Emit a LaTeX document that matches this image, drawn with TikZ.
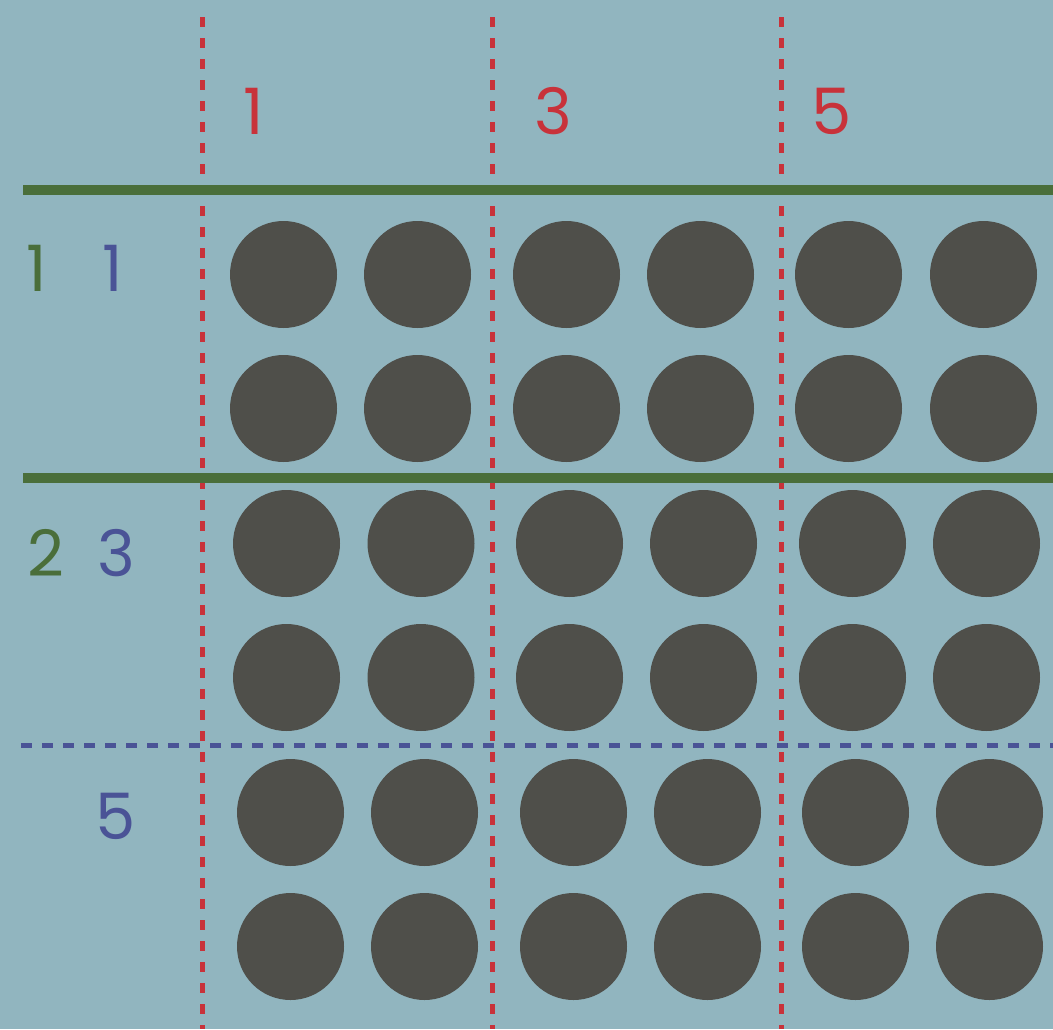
\documentclass[tikz,border=0pt]{standalone}
\usepackage{fontspec}
\setmainfont{Poppins}
\definecolor{bgc}{HTML}{91B5BF}
\definecolor{dotc}{HTML}{4F4F4A}
\definecolor{grn}{HTML}{4A6E3A}
\definecolor{redc}{HTML}{C8323A}
\definecolor{blu}{HTML}{4A5396}
\begin{document}
\begin{tikzpicture}[x=1pt,y=-1pt,
  dot/.style={circle,fill=dotc,draw=none,minimum size=107pt,inner sep=0pt},
  redline/.style={draw=redc,line width=5pt,dash pattern=on 10pt off 11pt},
  bluline/.style={draw=blu,line width=5pt,dash pattern=on 11pt off 10pt},
  grnline/.style={draw=grn,line width=10pt},
  lab/.style={font=\fontsize{64}{64}\selectfont,inner sep=0pt,anchor=center}]
\fill[bgc] (0,0) rectangle (1053,1029);
\useasboundingbox (0,0) rectangle (1053,1029);
% coordinates
\coordinate (r1t) at (202,17); \coordinate (r1b) at (202,1029);
\coordinate (r2t) at (492,17); \coordinate (r2b) at (492,1029);
\coordinate (r3t) at (781,17); \coordinate (r3b) at (781,1029);
\coordinate (g1l) at (23,190); \coordinate (g1r) at (1053,190);
\coordinate (g2l) at (23,478); \coordinate (g2r) at (1053,478);
\coordinate (b1l) at (21,745); \coordinate (b1r) at (1053,745);
% lines
\draw[bluline] (b1l) -- (b1r);
\draw[redline] (r1t) -- (r1b);
\draw[redline] (r2t) -- (r2b);
\draw[redline] (r3t) -- (r3b);
\draw[grnline] (g1l) -- (g1r);
\draw[grnline] (g2l) -- (g2r);
% labels
\node[lab,text=redc] (c1) at (254,111) {1};
\node[lab,text=redc] (c3) at (553,111) {3};
\node[lab,text=redc] (c5) at (832,111) {5};
\node[lab,text=grn] (g1) at (37,268) {1};
\node[lab,text=blu] (b1) at (113,268) {1};
\node[lab,text=grn] (g2) at (46,553) {2};
\node[lab,text=blu] (b3) at (116,553) {3};
\node[lab,text=blu] (b5) at (116,816) {5};
% dots rows 1-2
\foreach \x [count=\i] in {283.5,417.5,566.5,700.5,848.5,983.5}{
  \node[dot] (d1\i) at (\x,274.5) {};
  \node[dot] (d2\i) at (\x,408.5) {};
}
% rows 3-4
\foreach \x [count=\i] in {286.5,421,569.5,703.5,852.5,986.5}{
  \node[dot] (d3\i) at (\x,543.5) {};
  \node[dot] (d4\i) at (\x,677.5) {};
}
% rows 5-6
\foreach \x [count=\i] in {290.5,424.5,573.5,707.5,855.5,989.5}{
  \node[dot] (d5\i) at (\x,812.5) {};
  \node[dot] (d6\i) at (\x,946.5) {};
}
\end{tikzpicture}
\end{document}
